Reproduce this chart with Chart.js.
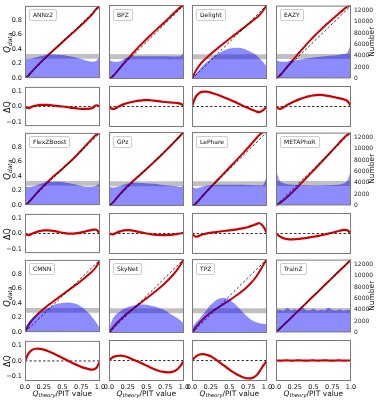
<!DOCTYPE html>
<html>
<head>
<meta charset="utf-8">
<script src="https://cdn.jsdelivr.net/npm/chart.js@4.4.0/dist/chart.umd.min.js"></script>
<style>
  body { margin: 0; background: #fff; }
  #fig { position: relative; width: 378px; height: 400px; overflow: hidden; font-family: 'DejaVu Sans', sans-serif; }
  #fig canvas { position: absolute; }
  .lbl { position: absolute; white-space: nowrap; text-align: center; color: #111; line-height: 1; }
  .name { position: absolute; font-size: 6px; padding: 2px 3px; border: 1px solid #ccc; border-radius: 2px; background: rgba(255,255,255,0.85); color: #111; line-height: 1; }
</style>
</head>
<body>
<div id="fig"></div>
<script>
// значения Q_theory (общая ось x)
const qTheory = [0, 0.05, 0.1, 0.15, 0.2, 0.25, 0.3, 0.35, 0.4, 0.45, 0.5, 0.55, 0.6, 0.65, 0.7, 0.75, 0.8, 0.85, 0.9, 0.95, 1.0];
const xTicks = [0, 0.25, 0.5, 0.75, 1];
const qTicks = [0, 0.2, 0.4, 0.6, 0.8];
const dqTicks = [-0.1, 0, 0.1];
const numTicks = [0, 2000, 4000, 6000, 8000, 10000, 12000];
const bandLow = 3450;
const bandHigh = 4300;

const methods = ['ANNz2', 'BPZ', 'Delight', 'EAZY', 'FlexZBoost', 'GPz', 'LePhare', 'METAPhoR', 'CMNN', 'SkyNet', 'TPZ', 'TrainZ'];

// ΔQ = Q_data - Q_theory
const dqANNz2 = [-0.003, -0.01, 0.0, 0.006, 0.01, 0.01, 0.01, 0.008, 0.005, 0.002, 0.0, -0.003, -0.007, -0.01, -0.013, -0.015, -0.016, -0.015, -0.01, 0.008, -0.002];
const dqBPZ = [-0.005, -0.015, -0.008, 0.005, 0.015, 0.022, 0.028, 0.033, 0.037, 0.039, 0.04, 0.039, 0.037, 0.034, 0.031, 0.028, 0.026, 0.024, 0.022, 0.018, 0.005];
const dqDelight = [0.0, 0.06, 0.085, 0.093, 0.092, 0.087, 0.08, 0.072, 0.063, 0.053, 0.043, 0.033, 0.022, 0.011, 0.0, -0.01, -0.02, -0.03, -0.035, -0.022, 0.0];
const dqEAZY = [0.0, -0.015, -0.005, 0.01, 0.022, 0.033, 0.043, 0.052, 0.059, 0.065, 0.069, 0.072, 0.072, 0.07, 0.066, 0.061, 0.056, 0.051, 0.045, 0.035, 0.0];
const dqFlexZBoost = [-0.005, -0.01, 0.0, 0.01, 0.016, 0.02, 0.021, 0.019, 0.015, 0.01, 0.005, 0.001, -0.001, -0.001, 0.002, 0.007, 0.013, 0.019, 0.024, 0.024, 0.0];
const dqGPz = [0.0, -0.005, 0.005, 0.013, 0.019, 0.021, 0.019, 0.015, 0.01, 0.005, 0.0, -0.004, -0.007, -0.009, -0.01, -0.01, -0.009, -0.007, -0.004, 0.0, 0.005];
const dqLePhare = [0.0, -0.02, -0.013, -0.005, 0.001, 0.005, 0.008, 0.011, 0.014, 0.017, 0.02, 0.023, 0.026, 0.03, 0.035, 0.041, 0.049, 0.057, 0.064, 0.045, 0.0];
const dqMETAPhoR = [0.0, -0.018, -0.03, -0.035, -0.037, -0.036, -0.034, -0.031, -0.028, -0.024, -0.02, -0.016, -0.011, -0.006, -0.001, 0.005, 0.011, 0.017, 0.023, 0.02, 0.0];
const dqCMNN = [0.0, 0.05, 0.072, 0.078, 0.077, 0.072, 0.064, 0.054, 0.043, 0.031, 0.019, 0.007, -0.005, -0.017, -0.028, -0.038, -0.046, -0.052, -0.055, -0.045, 0.0];
const dqSkyNet = [0.0, 0.02, 0.028, 0.031, 0.028, 0.02, 0.01, 0.0, -0.01, -0.021, -0.032, -0.043, -0.053, -0.062, -0.069, -0.073, -0.074, -0.07, -0.058, -0.035, 0.0];
const dqTPZ = [0.0, 0.025, 0.037, 0.04, 0.035, 0.026, 0.012, -0.005, -0.022, -0.04, -0.057, -0.073, -0.087, -0.099, -0.108, -0.112, -0.11, -0.097, -0.068, -0.032, 0.0];
const dqTrainZ = [0.001, -0.001, 0.0, 0.001, -0.001, 0.0, 0.001, 0.0, -0.001, 0.0, 0.001, -0.001, 0.0, 0.001, 0.0, -0.001, 0.0, 0.001, -0.001, 0.0, 0.0];

// гистограммы PIT (Number)
const histANNz2 = [3500, 3450, 3550, 3700, 3900, 4050, 4150, 4200, 4200, 4150, 4100, 4000, 3900, 3750, 3600, 3400, 3200, 3000, 2900, 3100, 3900];
const histBPZ = [3300, 3050, 3000, 3100, 3500, 3800, 3900, 3950, 3950, 3950, 3950, 3950, 3950, 3950, 3950, 3950, 3950, 3900, 3900, 3950, 4700];
const histDelight = [200, 900, 1700, 2400, 3000, 3500, 4000, 4400, 4800, 5100, 5300, 5400, 5450, 5400, 5200, 4900, 4600, 4200, 3600, 2900, 2100];
const histEAZY = [3200, 3000, 2950, 3000, 3100, 3200, 3300, 3400, 3500, 3600, 3700, 3800, 3850, 3900, 4000, 4050, 4100, 4200, 4300, 4500, 6200];
const histFlexZBoost = [3400, 3200, 3300, 3500, 3750, 3950, 4100, 4150, 4150, 4150, 4100, 4000, 3900, 3750, 3600, 3450, 3300, 3250, 3300, 3500, 4000];
const histGPz = [3300, 3200, 3300, 3500, 3700, 3900, 4000, 4050, 4050, 4000, 3950, 3900, 3850, 3800, 3700, 3600, 3550, 3500, 3450, 3300, 3600];
const histLePhare = [3300, 3100, 3200, 3400, 3550, 3650, 3700, 3700, 3700, 3700, 3700, 3700, 3700, 3700, 3700, 3650, 3650, 3600, 3600, 3700, 5400];
const histMETAPhoR = [6500, 4300, 3900, 3750, 3700, 3650, 3600, 3550, 3550, 3500, 3500, 3500, 3500, 3550, 3550, 3600, 3650, 3700, 3850, 4300, 6300];
const histCMNN = [800, 1800, 2500, 3000, 3500, 3900, 4300, 4600, 4900, 5100, 5200, 5250, 5250, 5150, 4900, 4500, 4000, 3400, 2600, 1700, 600];
const histSkyNet = [600, 2500, 3300, 3800, 4200, 4500, 4700, 4850, 4950, 4950, 4900, 4800, 4650, 4450, 4200, 3900, 3500, 3100, 2700, 2200, 1600];
const histTPZ = [1000, 1800, 2500, 3300, 4100, 4900, 5500, 5900, 6100, 6050, 5800, 5300, 4700, 4000, 3300, 2700, 2200, 1900, 1700, 1600, 1500];
const histTrainZ = [3900, 4000, 3850, 4300, 3900, 4100, 3850, 4400, 3950, 3900, 4200, 3850, 4000, 3900, 4350, 3950, 3900, 4100, 3850, 4000, 3900];

const dqData = { ANNz2: dqANNz2, BPZ: dqBPZ, Delight: dqDelight, EAZY: dqEAZY, FlexZBoost: dqFlexZBoost, GPz: dqGPz,
  LePhare: dqLePhare, METAPhoR: dqMETAPhoR, CMNN: dqCMNN, SkyNet: dqSkyNet, TPZ: dqTPZ, TrainZ: dqTrainZ };
const histData = { ANNz2: histANNz2, BPZ: histBPZ, Delight: histDelight, EAZY: histEAZY, FlexZBoost: histFlexZBoost, GPz: histGPz,
  LePhare: histLePhare, METAPhoR: histMETAPhoR, CMNN: histCMNN, SkyNet: histSkyNet, TPZ: histTPZ, TrainZ: histTrainZ };

// раскладка панелей (px)
const colX = [25, 109, 192, 276];
const panelW = 75;
const topY = [5, 132, 259];
const topH = 74;
const dqY = [86, 213, 340];
const dqH = 41;
const L = 25, R = 25, T = 6;

Chart.defaults.font.family = "'DejaVu Sans', sans-serif";
Chart.defaults.color = '#111';

const fig = document.getElementById('fig');

// рамка вокруг области графика
const framePlugin = {
  id: 'frame',
  afterDatasetsDraw(chart) {
    const { ctx, chartArea: a } = chart;
    ctx.save();
    ctx.strokeStyle = '#7a7a7a';
    ctx.lineWidth = 1;
    ctx.strokeRect(a.left + 0.5, a.top + 0.5, a.right - a.left - 1, a.bottom - a.top - 1);
    ctx.restore();
  }
};

const fmt1 = v => (v < 0 ? '\u2212' : '') + Math.abs(v).toFixed(1);
const fmtX = v => (v === 0 ? '0.0' : v === 1 ? '1.0' : String(v));

function setTicks(list) {
  return s => { s.ticks = list.map(v => ({ value: v })); };
}

function makeCanvas(left, top, w, h) {
  const c = document.createElement('canvas');
  c.width = w; c.height = h;
  c.style.left = left + 'px'; c.style.top = top + 'px';
  c.style.width = w + 'px'; c.style.height = h + 'px';
  fig.appendChild(c);
  return c;
}

function xScale(show, height) {
  return {
    type: 'linear', min: 0, max: 1,
    grid: { display: false, drawTicks: false }, border: { display: false },
    ticks: { display: show, font: { size: 6.5 }, padding: 2, maxRotation: 0, autoSkip: false, callback: fmtX },
    afterBuildTicks: setTicks(xTicks),
    afterFit: s => { s.height = height; }
  };
}

function topChart(name, col, row) {
  const dq = dqData[name];
  const hist = histData[name];
  const h = T + topH + 6;
  const c = makeCanvas(colX[col] - L, topY[row] - T, L + panelW + R, h);
  new Chart(c, {
    type: 'line',
    data: {
      datasets: [
        { label: 'hist', yAxisID: 'y1', data: qTheory.map((q, i) => ({ x: q, y: hist[i] })),
          borderWidth: 0, backgroundColor: 'rgba(0,0,255,0.45)', fill: 'origin', tension: 0.3, order: 1 },
        { label: 'diag', data: qTheory.map(q => ({ x: q, y: q })), borderColor: '#000', borderWidth: 0.8,
          borderDash: [2.5, 2], fill: false, order: 2 },
        { label: 'QQ', data: qTheory.map((q, i) => ({ x: q, y: q + dq[i] })), borderColor: '#cc0000',
          borderWidth: 2, fill: false, tension: 0.4, order: 3 },
        { label: 'low', yAxisID: 'y1', data: [{ x: 0, y: bandLow }, { x: 1, y: bandLow }], borderWidth: 0, fill: false, order: 5 },
        { label: 'high', yAxisID: 'y1', data: [{ x: 0, y: bandHigh }, { x: 1, y: bandHigh }], borderWidth: 0,
          backgroundColor: 'rgba(150,150,150,0.6)', fill: '-1', order: 4 }
      ]
    },
    options: {
      responsive: false, animation: false, devicePixelRatio: 1,
      layout: { padding: { top: T, left: 0, right: 0, bottom: 0 } },
      plugins: { legend: { display: false }, tooltip: { enabled: false } },
      elements: { point: { radius: 0 } },
      scales: {
        x: xScale(false, 6),
        y: {
          type: 'linear', position: 'left', min: 0, max: 1,
          grid: { display: false, drawTicks: false }, border: { display: false },
          ticks: { display: col === 0, font: { size: 6.5 }, padding: 3, callback: fmt1 },
          afterBuildTicks: setTicks(qTicks),
          afterFit: s => { s.width = L; }
        },
        y1: {
          type: 'linear', position: 'right', min: 0, max: 12870,
          grid: { display: false, drawTicks: false }, border: { display: false },
          ticks: { display: col === 3, font: { size: 6 }, padding: 3, color: '#222', callback: v => String(v) },
          afterBuildTicks: setTicks(numTicks),
          afterFit: s => { s.width = R; }
        }
      }
    },
    plugins: [framePlugin]
  });
  const n = document.createElement('div');
  n.className = 'name';
  n.textContent = name;
  n.style.left = (colX[col] + 4) + 'px';
  n.style.top = (topY[row] + 4) + 'px';
  fig.appendChild(n);
}

function dqChart(name, col, row) {
  const dq = dqData[name];
  const bottom = row === 2;
  const B = bottom ? 14 : 6;
  const c = makeCanvas(colX[col] - L, dqY[row] - T, L + panelW + R, T + dqH + B);
  new Chart(c, {
    type: 'line',
    data: {
      datasets: [
        { label: 'dQ', data: qTheory.map((q, i) => ({ x: q, y: dq[i] })), borderColor: '#cc0000',
          borderWidth: 2.2, fill: false, tension: 0.4, order: 1 },
        { label: 'zero', data: [{ x: 0, y: 0 }, { x: 1, y: 0 }], borderColor: '#000', borderWidth: 0.8,
          borderDash: [2.5, 2], fill: false, order: 2 }
      ]
    },
    options: {
      responsive: false, animation: false, devicePixelRatio: 1,
      layout: { padding: { top: T, left: 0, right: R, bottom: 0 } },
      plugins: { legend: { display: false }, tooltip: { enabled: false } },
      elements: { point: { radius: 0 } },
      scales: {
        x: xScale(bottom, B),
        y: {
          type: 'linear', position: 'left', min: -0.128, max: 0.128,
          grid: { display: false, drawTicks: false }, border: { display: false },
          ticks: { display: col === 0, font: { size: 6.5 }, padding: 3, callback: fmt1 },
          afterBuildTicks: setTicks(dqTicks),
          afterFit: s => { s.width = L; }
        }
      }
    },
    plugins: [framePlugin]
  });
}

methods.forEach((m, i) => {
  const col = i % 4, row = Math.floor(i / 4);
  topChart(m, col, row);
  dqChart(m, col, row);
});

// подписи осей
function label(html, cx, cy, size, rot) {
  const d = document.createElement('div');
  d.className = 'lbl';
  d.innerHTML = html;
  d.style.fontSize = size + 'px';
  fig.appendChild(d);
  const w = d.offsetWidth, h = d.offsetHeight;
  d.style.left = (cx - w / 2) + 'px';
  d.style.top = (cy - h / 2) + 'px';
  if (rot) d.style.transform = 'rotate(' + rot + 'deg)';
}

const qData = '<i>Q</i><sub style="font-size:0.7em;font-style:italic;vertical-align:-0.25em">data</sub>';
const qTheo = '<i>Q</i><sub style="font-size:0.7em;font-style:italic;vertical-align:-0.25em">theory</sub>/PIT value';
topY.forEach(y => label(qData, 8, y + topH / 2, 8.5, -90));
dqY.forEach(y => label('\u0394Q', 8, y + dqH / 2, 8, -90));
topY.forEach(y => label('Number', 372, y + topH / 2, 7.5, -90));
colX.forEach(x => label(qTheo, x + panelW / 2, 394, 7.5, 0));
</script>
</body>
</html>
